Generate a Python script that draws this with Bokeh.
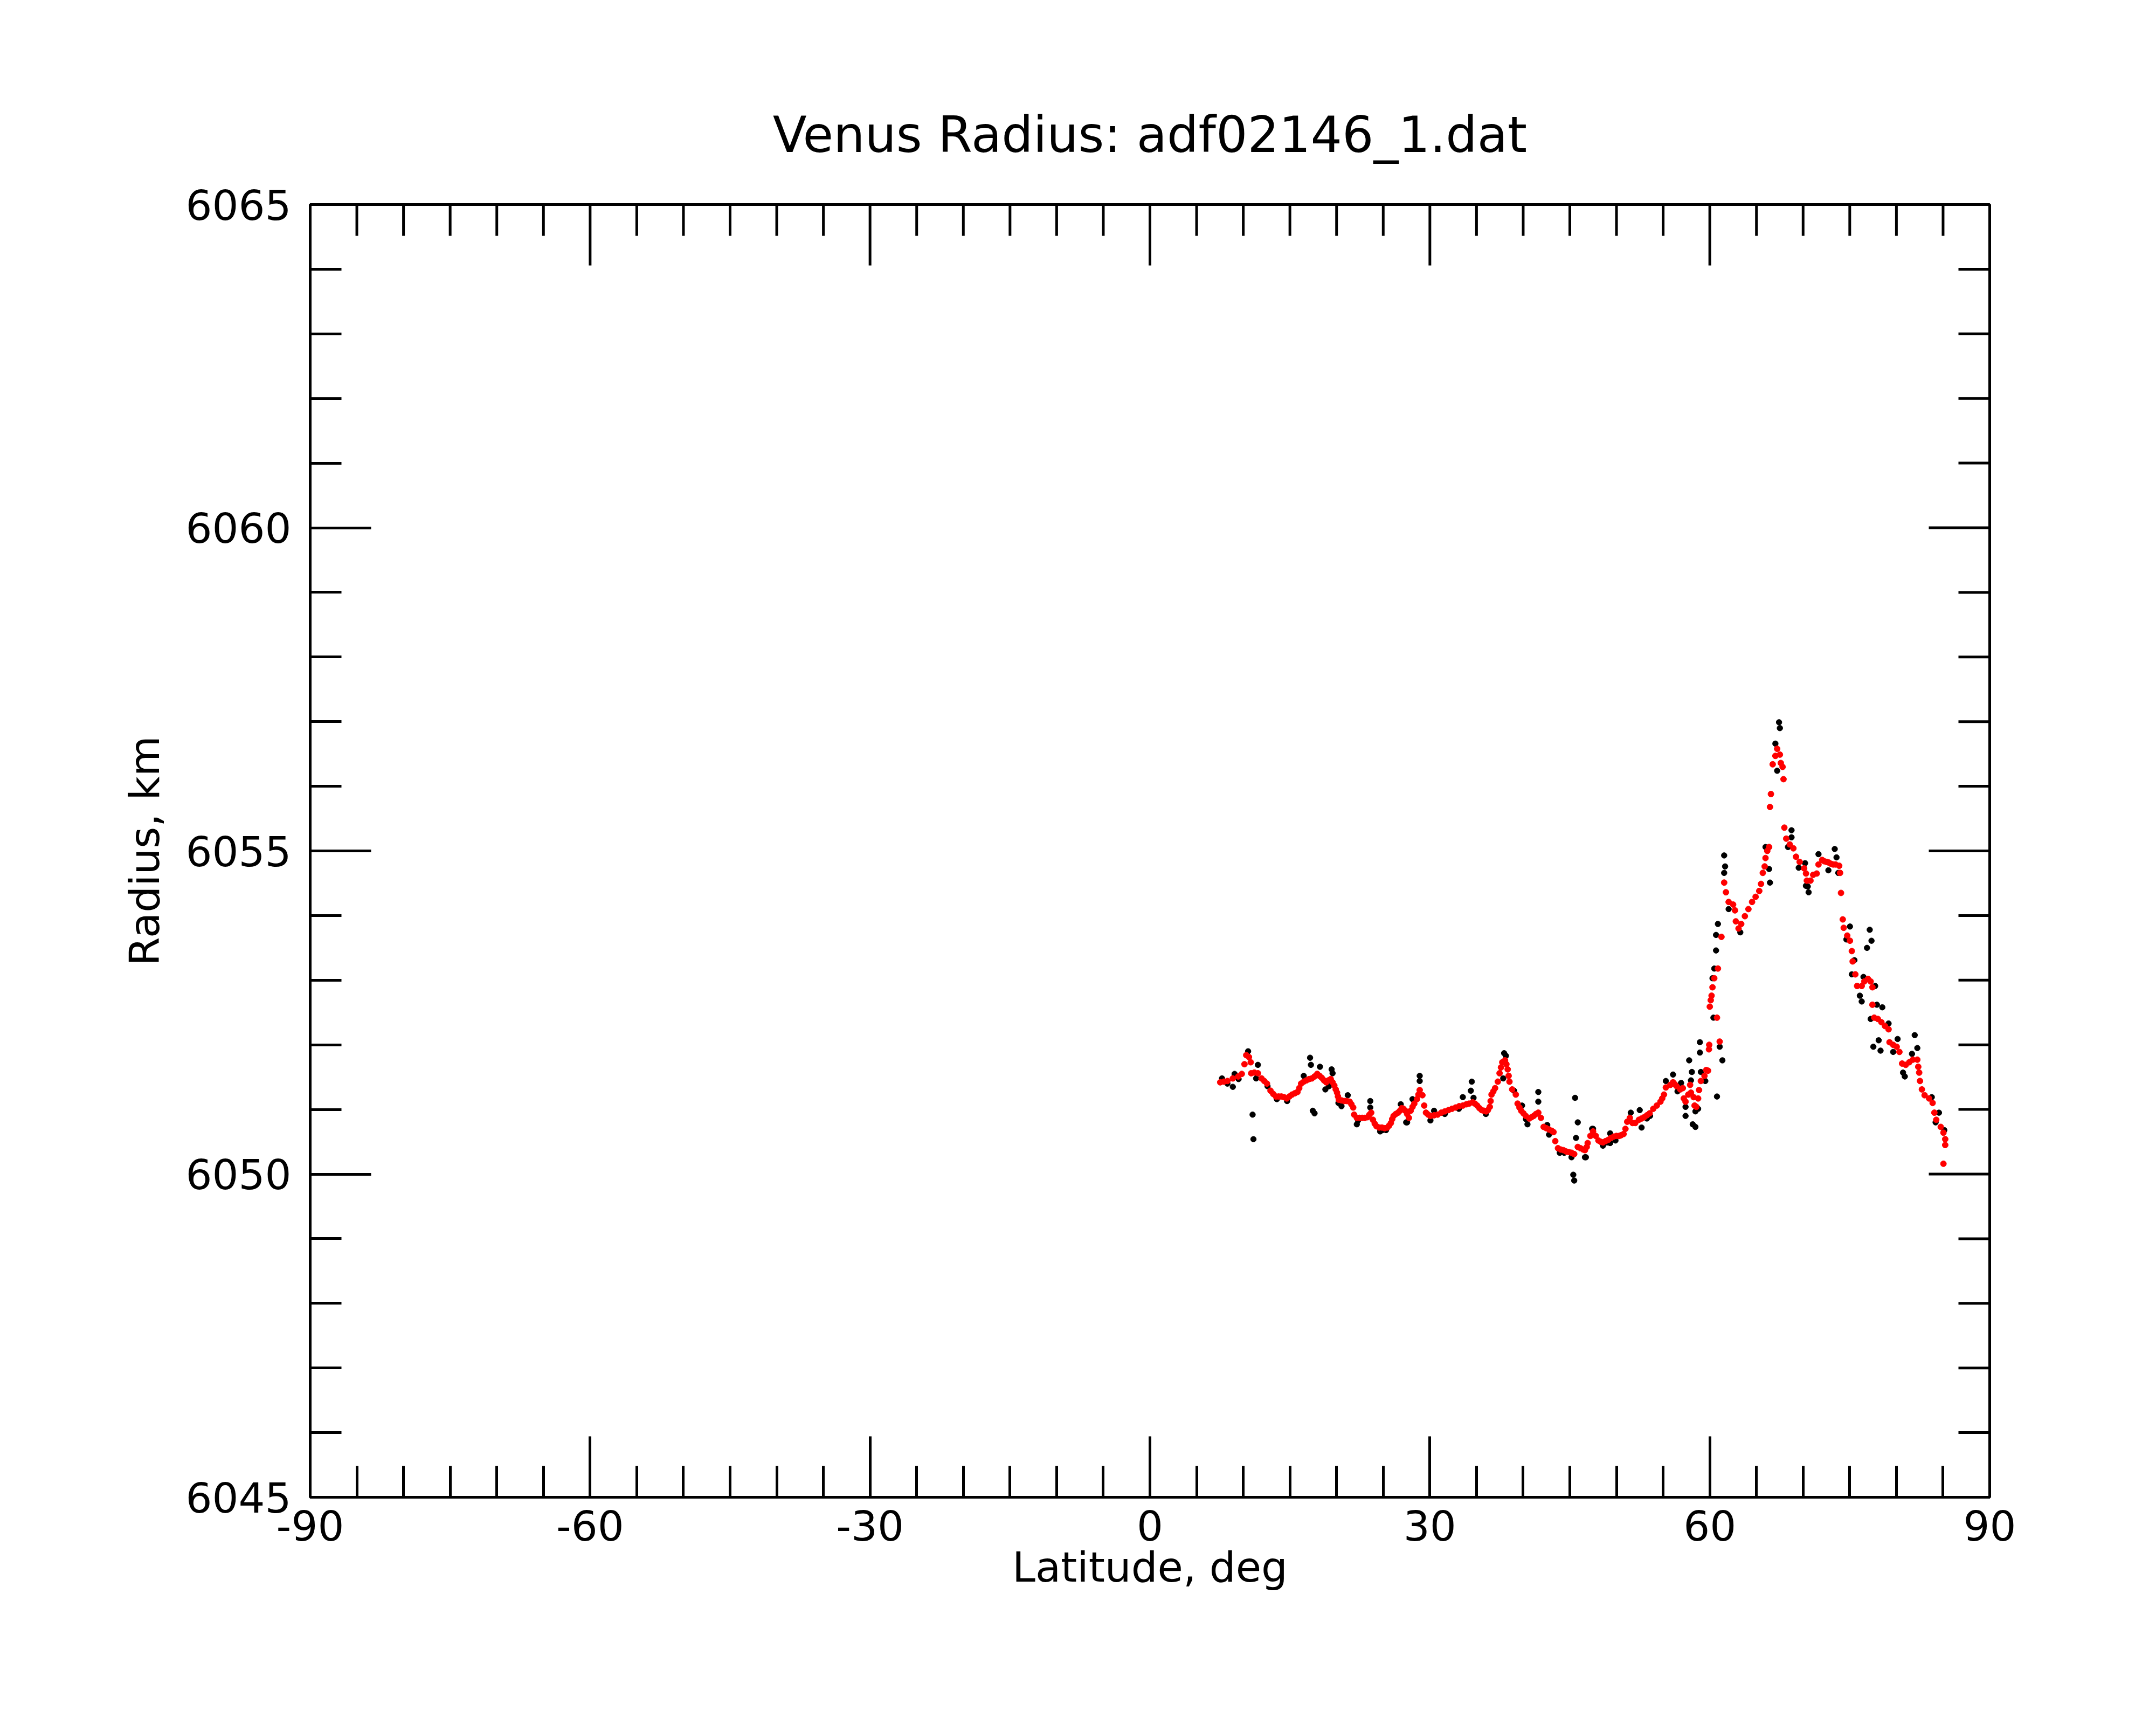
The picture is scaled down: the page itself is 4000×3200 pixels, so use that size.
import math
from bokeh.plotting import figure
from bokeh.models import Range1d, FixedTicker, ColumnDataSource
from bokeh.embed import file_html
from bokeh.resources import INLINE

TITLE = "Venus Radius: adf02146_1.dat"
X_LABEL = "Latitude, deg"
Y_LABEL = "Radius, km"

x_ticks = [-90, -60, -30, 0, 30, 60, 90]
x_tick_labels = ["-90", "-60", "-30", "0", "30", "60", "90"]
x_minor_ticks = [-85, -80, -75, -70, -65, -55, -50, -45, -40, -35, -25, -20, -15, -10, -5,
                 5, 10, 15, 20, 25, 35, 40, 45, 50, 55, 65, 70, 75, 80, 85]
y_ticks = [6045, 6050, 6055, 6060, 6065]
y_tick_labels = ["6045", "6050", "6055", "6060", "6065"]
y_minor_ticks = [6046, 6047, 6048, 6049, 6051, 6052, 6053, 6054, 6056, 6057, 6058, 6059,
                 6061, 6062, 6063, 6064]

# smoothed radius (red)
red_lat = [
    7.53, 7.92, 8.30, 8.88, 9.46, 9.84, 10.13, 10.32, 10.61, 10.80, 10.85, 11.19, 11.57, 11.96,
    12.25, 12.54, 12.92, 13.21, 13.50, 13.79, 14.08, 14.37, 14.66, 14.94, 15.23, 15.52, 15.81,
    16.00, 16.20, 16.48, 16.77, 17.06, 17.35, 17.64, 17.93, 18.17, 18.41, 18.65, 18.89, 19.13,
    19.37, 19.57, 19.76, 19.91, 20.05, 20.15, 20.24, 20.53, 20.82, 21.11, 21.40, 21.59, 21.78,
    21.88, 22.17, 22.45, 22.74, 23.03, 23.32, 23.52, 23.71, 23.90, 24.09, 24.28, 24.57, 24.86,
    25.15, 25.44, 25.63, 25.82, 25.96, 26.11, 26.35, 26.59, 26.79, 26.98,
    27.17, 27.37, 27.56, 27.75, 27.94, 28.14, 28.33, 28.62, 28.77, 28.91, 29.20, 29.39, 29.58,
    29.82, 30.06, 30.45, 30.83, 31.22, 31.60, 31.99, 32.37, 32.76, 33.14, 33.53, 33.91, 34.20,
    34.59, 34.83, 35.07, 35.31, 35.55, 35.79, 36.03, 36.22, 36.42, 36.51, 36.61, 36.80, 36.99,
    37.28, 37.47, 37.62, 37.76, 38.05, 38.20, 38.34, 38.44, 38.53, 38.82, 39.21, 39.40, 39.60,
    39.79, 40.03, 40.27, 40.65, 40.89, 41.13, 41.37, 41.62, 41.90, 42.19, 42.48, 42.77, 43.06,
    43.25, 43.44, 43.73, 44.02, 44.31, 44.60, 44.89, 45.18, 45.47, 45.85, 46.14, 46.43,
    46.62, 46.81, 46.91, 47.20, 47.49, 47.78, 48.06, 48.30, 48.55, 48.83, 49.12, 49.41, 49.70,
    49.99, 50.28, 50.47, 50.76, 50.96, 51.15, 51.43, 51.72, 52.01, 52.40, 52.69, 52.97, 53.26,
    53.55, 53.94, 54.32, 54.71, 54.90, 55.09, 55.29, 55.77, 56.06, 56.25, 56.44, 56.83, 57.11,
    57.21, 57.40, 57.69, 57.89, 57.98, 58.27, 58.37, 58.56, 58.75, 58.85, 59.04, 59.43, 59.62,
    59.81, 59.91, 59.94,
    60.00, 60.10, 60.19, 60.29, 60.48, 60.77, 60.87, 61.06, 61.25, 61.54, 61.73, 62.02, 62.50,
    62.70, 62.79, 63.08, 63.37, 63.76, 64.14, 64.53, 64.91, 65.30, 65.49, 65.68, 65.88, 65.97,
    66.16, 66.36, 66.45, 66.55, 66.74, 67.03, 67.22, 67.51, 67.61, 67.80, 67.90, 67.99, 68.19,
    68.57, 68.96, 69.24, 69.63, 70.11, 70.31, 70.40, 70.79, 71.08, 71.46, 71.65, 72.04, 72.27,
    72.52, 72.75, 73.00, 73.23, 73.48, 73.87, 73.96, 74.06, 74.25, 74.35, 74.73, 75.02, 75.22,
    75.31, 75.60, 75.79, 76.28, 76.56, 76.95, 77.24, 77.43, 77.43, 77.62, 78.01, 78.39, 78.78,
    79.16, 79.26, 79.65, 80.03, 80.32, 80.61, 81.00, 81.38, 81.76, 82.24, 82.34, 82.44, 82.53,
    82.73, 83.02, 83.50, 83.88, 84.07, 84.27, 84.75, 85.04, 85.23, 85.23, 85.04,
]
red_radius = [
    6051.42, 6051.43, 6051.44, 6051.48, 6051.51, 6051.55, 6051.70, 6051.84, 6051.81, 6051.73,
    6051.56, 6051.57, 6051.56, 6051.48, 6051.44, 6051.40, 6051.29, 6051.24, 6051.20, 6051.20,
    6051.20, 6051.19, 6051.17, 6051.20, 6051.23, 6051.25, 6051.27, 6051.33, 6051.40, 6051.43,
    6051.45, 6051.47, 6051.48, 6051.51, 6051.55, 6051.52, 6051.49, 6051.45, 6051.42, 6051.45,
    6051.47, 6051.42, 6051.37, 6051.31, 6051.26, 6051.20, 6051.15, 6051.14, 6051.13, 6051.13,
    6051.12, 6051.08, 6051.03, 6050.92, 6050.87, 6050.87, 6050.87, 6050.87, 6050.88, 6050.92,
    6050.95, 6050.84, 6050.78, 6050.74, 6050.72, 6050.72, 6050.71, 6050.72, 6050.75, 6050.79,
    6050.85, 6050.90, 6050.93, 6050.95, 6050.98, 6051.02,
    6051.01, 6050.98, 6050.93, 6050.87, 6050.98, 6051.04, 6051.09, 6051.16, 6051.23, 6051.30,
    6051.22, 6051.06, 6050.95, 6050.92, 6050.90, 6050.91, 6050.92, 6050.95, 6050.97, 6050.99,
    6051.01, 6051.03, 6051.05, 6051.06, 6051.08, 6051.09, 6051.11, 6051.09, 6051.06, 6051.02,
    6050.99, 6050.98, 6050.97, 6050.99, 6051.04, 6051.13, 6051.23, 6051.28, 6051.33, 6051.43,
    6051.56, 6051.65, 6051.73, 6051.76, 6051.70, 6051.62, 6051.52, 6051.43, 6051.31, 6051.23,
    6051.09, 6051.03, 6050.98, 6050.94, 6050.90, 6050.86, 6050.88, 6050.90, 6050.93, 6050.95,
    6050.87, 6050.73, 6050.71, 6050.69, 6050.67, 6050.65, 6050.51, 6050.40, 6050.38, 6050.37,
    6050.35, 6050.34, 6050.33, 6050.31, 6050.42, 6050.40, 6050.38,
    6050.37, 6050.42, 6050.48, 6050.59, 6050.66, 6050.59, 6050.52, 6050.50, 6050.49, 6050.51,
    6050.53, 6050.56, 6050.58, 6050.59, 6050.59, 6050.60, 6050.62, 6050.70, 6050.81, 6050.87,
    6050.79, 6050.79, 6050.84, 6050.86, 6050.88, 6050.91, 6050.94, 6051.01, 6051.06, 6051.12,
    6051.17, 6051.23, 6051.34, 6051.38, 6051.42, 6051.39, 6051.36, 6051.31, 6051.33, 6051.17,
    6051.12, 6051.23, 6051.38, 6051.26, 6051.19, 6051.06, 6051.04, 6051.17, 6051.30, 6051.44,
    6051.52, 6051.61, 6051.60, 6051.93, 6052.00,
    6052.59, 6052.69, 6052.76, 6052.89, 6053.03, 6052.42, 6053.18, 6052.05, 6053.67, 6054.51,
    6054.36, 6054.21, 6054.17, 6054.08, 6053.91, 6053.80, 6053.87, 6053.99, 6054.10, 6054.21,
    6054.29, 6054.38, 6054.49, 6054.66, 6054.76, 6054.89, 6055.00, 6055.06, 6055.68, 6055.88,
    6056.34, 6056.47, 6056.58, 6056.49, 6056.36, 6056.30, 6056.11, 6055.36, 6055.19, 6055.10,
    6055.04, 6054.91, 6054.83, 6054.73, 6054.65, 6054.54, 6054.54, 6054.63, 6054.65, 6054.79,
    6054.86, 6054.84, 6054.83, 6054.82, 6054.80, 6054.79, 6054.79, 6054.77, 6054.66, 6054.35,
    6053.94, 6053.81, 6053.69, 6053.61, 6053.45, 6053.29, 6053.09, 6052.91, 6052.91, 6052.98,
    6053.02, 6052.98, 6052.89, 6052.62, 6052.42, 6052.40, 6052.35, 6052.29, 6052.24, 6052.04,
    6052.00, 6051.97, 6051.89, 6051.71, 6051.69, 6051.73, 6051.77, 6051.77, 6051.66, 6051.57,
    6051.44, 6051.31, 6051.22, 6051.17, 6051.10, 6050.95, 6050.84, 6050.73, 6050.64, 6050.54,
    6050.45, 6050.16,
]

# raw radius (black)
black_lat = [
    7.72, 8.30, 8.88, 9.07, 9.50, 10.52, 11.00, 11.09, 11.38, 11.57, 12.60, 13.60, 14.70, 16.48,
    17.16, 17.25, 17.45, 17.64, 18.22, 18.80, 19.18, 19.47, 19.57, 20.20, 20.53, 21.20, 22.17,
    22.30, 23.61, 23.61, 24.67, 24.90, 25.30, 26.88, 27.46,
    27.56, 28.14, 28.91, 28.91, 30.06, 30.45, 31.60, 33.10, 33.53, 34.39, 34.49, 34.68, 36.00,
    37.86, 37.96, 38.15, 39.02, 39.88, 40.30, 40.46, 41.62, 41.62, 42.58, 42.77, 43.92, 44.40,
    45.18, 45.37, 45.47, 45.56, 45.66, 45.85, 46.72, 47.39,
    46.62, 47.49, 48.55, 49.00, 49.32, 49.32, 49.89, 51.53, 52.49, 52.69, 53.26, 53.60, 55.29,
    56.06, 56.54, 56.92, 57.40, 57.40, 57.79, 57.98, 58.08, 58.17, 58.46, 58.46, 58.75, 58.94,
    58.94, 59.04, 59.52,
    60.29, 60.39, 60.48, 60.67, 60.67, 60.77, 60.87, 61.06, 61.35, 61.54, 61.54, 61.64, 62.02,
    63.27, 65.97, 66.36, 66.45, 67.03, 67.22, 67.42, 67.51, 68.38, 68.76, 68.76, 69.53, 70.21,
    70.30, 70.50, 70.59, 71.65, 72.71, 73.39, 73.58, 73.77, 74.64, 75.02, 75.22, 75.50, 76.08,
    76.28, 76.47, 76.85, 77.14, 77.24, 77.33, 77.53, 77.72, 77.91, 78.10, 78.30, 78.49, 79.16,
    79.65, 80.13, 80.71, 80.90, 81.67, 81.96, 82.24, 83.79, 84.20, 84.56, 85.13,
]
black_radius = [
    6051.48, 6051.40, 6051.35, 6051.55, 6051.47, 6051.90, 6050.92, 6050.54, 6051.48, 6051.69,
    6051.36, 6051.16, 6051.13, 6051.52, 6051.80, 6051.69, 6050.98, 6050.94, 6051.66, 6051.31,
    6051.36, 6051.62, 6051.56, 6051.10, 6051.05, 6051.22, 6050.77, 6050.83, 6051.13, 6051.03,
    6050.66, 6050.68, 6050.68, 6051.08, 6050.80,
    6050.80, 6051.16, 6051.52, 6051.44, 6050.83, 6050.98, 6050.93, 6051.01, 6051.19, 6051.29,
    6051.43, 6051.18, 6050.93, 6051.48, 6051.87, 6051.83, 6051.29, 6051.06, 6050.85, 6050.77,
    6051.27, 6051.12, 6050.76, 6050.61, 6050.33, 6050.33, 6050.26, 6049.99, 6049.90, 6051.18,
    6050.56, 6050.80, 6050.26, 6050.70,
    6050.26, 6050.70, 6050.44, 6050.49, 6050.63, 6050.48, 6050.52, 6050.95, 6050.99, 6050.72,
    6050.86, 6050.90, 6051.44, 6051.54, 6051.28, 6051.41, 6051.04, 6050.90, 6051.76, 6051.45,
    6051.58, 6050.77, 6050.97, 6050.73, 6051.01, 6052.04, 6051.88, 6051.58, 6051.44,
    6053.03, 6052.42, 6053.18, 6053.70, 6053.46, 6051.20, 6053.87, 6051.97, 6051.76, 6054.93,
    6054.66, 6054.76, 6054.10, 6053.74, 6055.06, 6054.72, 6054.51, 6056.66, 6056.24, 6056.99,
    6056.90, 6055.06, 6055.32, 6055.21, 6054.74, 6054.81, 6054.46, 6054.45, 6054.36, 6054.95,
    6054.70, 6055.03, 6054.90, 6054.66, 6053.63, 6053.83, 6053.09, 6053.31, 6052.76, 6052.67,
    6053.05, 6053.50, 6053.78, 6052.40, 6053.61, 6051.97, 6052.91, 6052.62, 6052.07, 6051.91,
    6052.58, 6052.33, 6051.89, 6052.09, 6051.57, 6051.51, 6051.86, 6052.15, 6051.95, 6051.19,
    6050.80, 6050.95, 6050.68,
]

FONT = "DejaVu Sans"
TICK_SIZE = "77px"
MAJOR_LEN = 113
MINOR_LEN = 58
LINE_W = 5

p = figure(width=3984, height=3184,
           x_range=Range1d(x_ticks[0], x_ticks[-1]),
           y_range=Range1d(y_ticks[0], y_ticks[-1]),
           output_backend="svg", toolbar_location=None,
           min_border_left=575, min_border_right=293,
           min_border_top=379, min_border_bottom=407)

p.background_fill_color = "white"
p.border_fill_color = "white"
p.outline_line_color = "black"
p.outline_line_width = LINE_W
p.xgrid.visible = False
p.ygrid.visible = False

p.title.text = TITLE
p.title.text_font = FONT
p.title.text_font_size = "92px"
p.title.text_font_style = "normal"
p.title.text_color = "black"
p.title.align = "center"
p.title.standoff = 152


def style_axis(ax, ticks, minor, labels):
    ax.ticker = FixedTicker(ticks=ticks, minor_ticks=minor)
    ax.major_label_overrides = {t: s for t, s in zip(ticks, labels)}
    ax.axis_line_color = "black"
    ax.axis_line_width = LINE_W
    ax.major_tick_line_color = "black"
    ax.major_tick_line_width = LINE_W
    ax.minor_tick_line_color = "black"
    ax.minor_tick_line_width = LINE_W
    ax.major_tick_in = MAJOR_LEN
    ax.major_tick_out = 0
    ax.minor_tick_in = MINOR_LEN
    ax.minor_tick_out = 0
    ax.major_label_text_font = FONT
    ax.major_label_text_font_size = TICK_SIZE
    ax.major_label_text_color = "black"
    ax.axis_label_text_font = FONT
    ax.axis_label_text_font_style = "normal"
    ax.axis_label_text_font_size = TICK_SIZE
    ax.axis_label_text_color = "black"


xax = p.below[0]
yax = p.left[0]
style_axis(xax, x_ticks, x_minor_ticks, x_tick_labels)
style_axis(yax, y_ticks, y_minor_ticks, y_tick_labels)

xax.axis_label = X_LABEL
xax.major_label_standoff = 24
xax.axis_label_standoff = 2
yax.axis_label = Y_LABEL
yax.major_label_standoff = 35
yax.axis_label_standoff = 29

# mirrored ticks on the top and right edges of the frame
top_x = x_ticks[1:-1] + x_minor_ticks
top_len = [MAJOR_LEN] * (len(x_ticks) - 2) + [MINOR_LEN] * len(x_minor_ticks)
top_src = ColumnDataSource(data=dict(x=top_x, y=[y_ticks[-1]] * len(top_x), length=top_len))
p.ray(x="x", y="y", length="length", angle=-math.pi / 2, length_units="screen",
      source=top_src, line_color="black", line_width=LINE_W)

right_y = y_ticks[1:-1] + y_minor_ticks
right_len = [MAJOR_LEN] * (len(y_ticks) - 2) + [MINOR_LEN] * len(y_minor_ticks)
right_src = ColumnDataSource(data=dict(x=[x_ticks[-1]] * len(right_y), y=right_y, length=right_len))
p.ray(x="x", y="y", length="length", angle=math.pi, length_units="screen",
      source=right_src, line_color="black", line_width=LINE_W)

black_src = ColumnDataSource(data=dict(lat=black_lat, radius=black_radius))
red_src = ColumnDataSource(data=dict(lat=red_lat, radius=red_radius))
p.scatter("lat", "radius", source=black_src, size=10.5, color="black")
p.scatter("lat", "radius", source=red_src, size=11, color="red")

open("out.html", "w").write(file_html(p, INLINE))
